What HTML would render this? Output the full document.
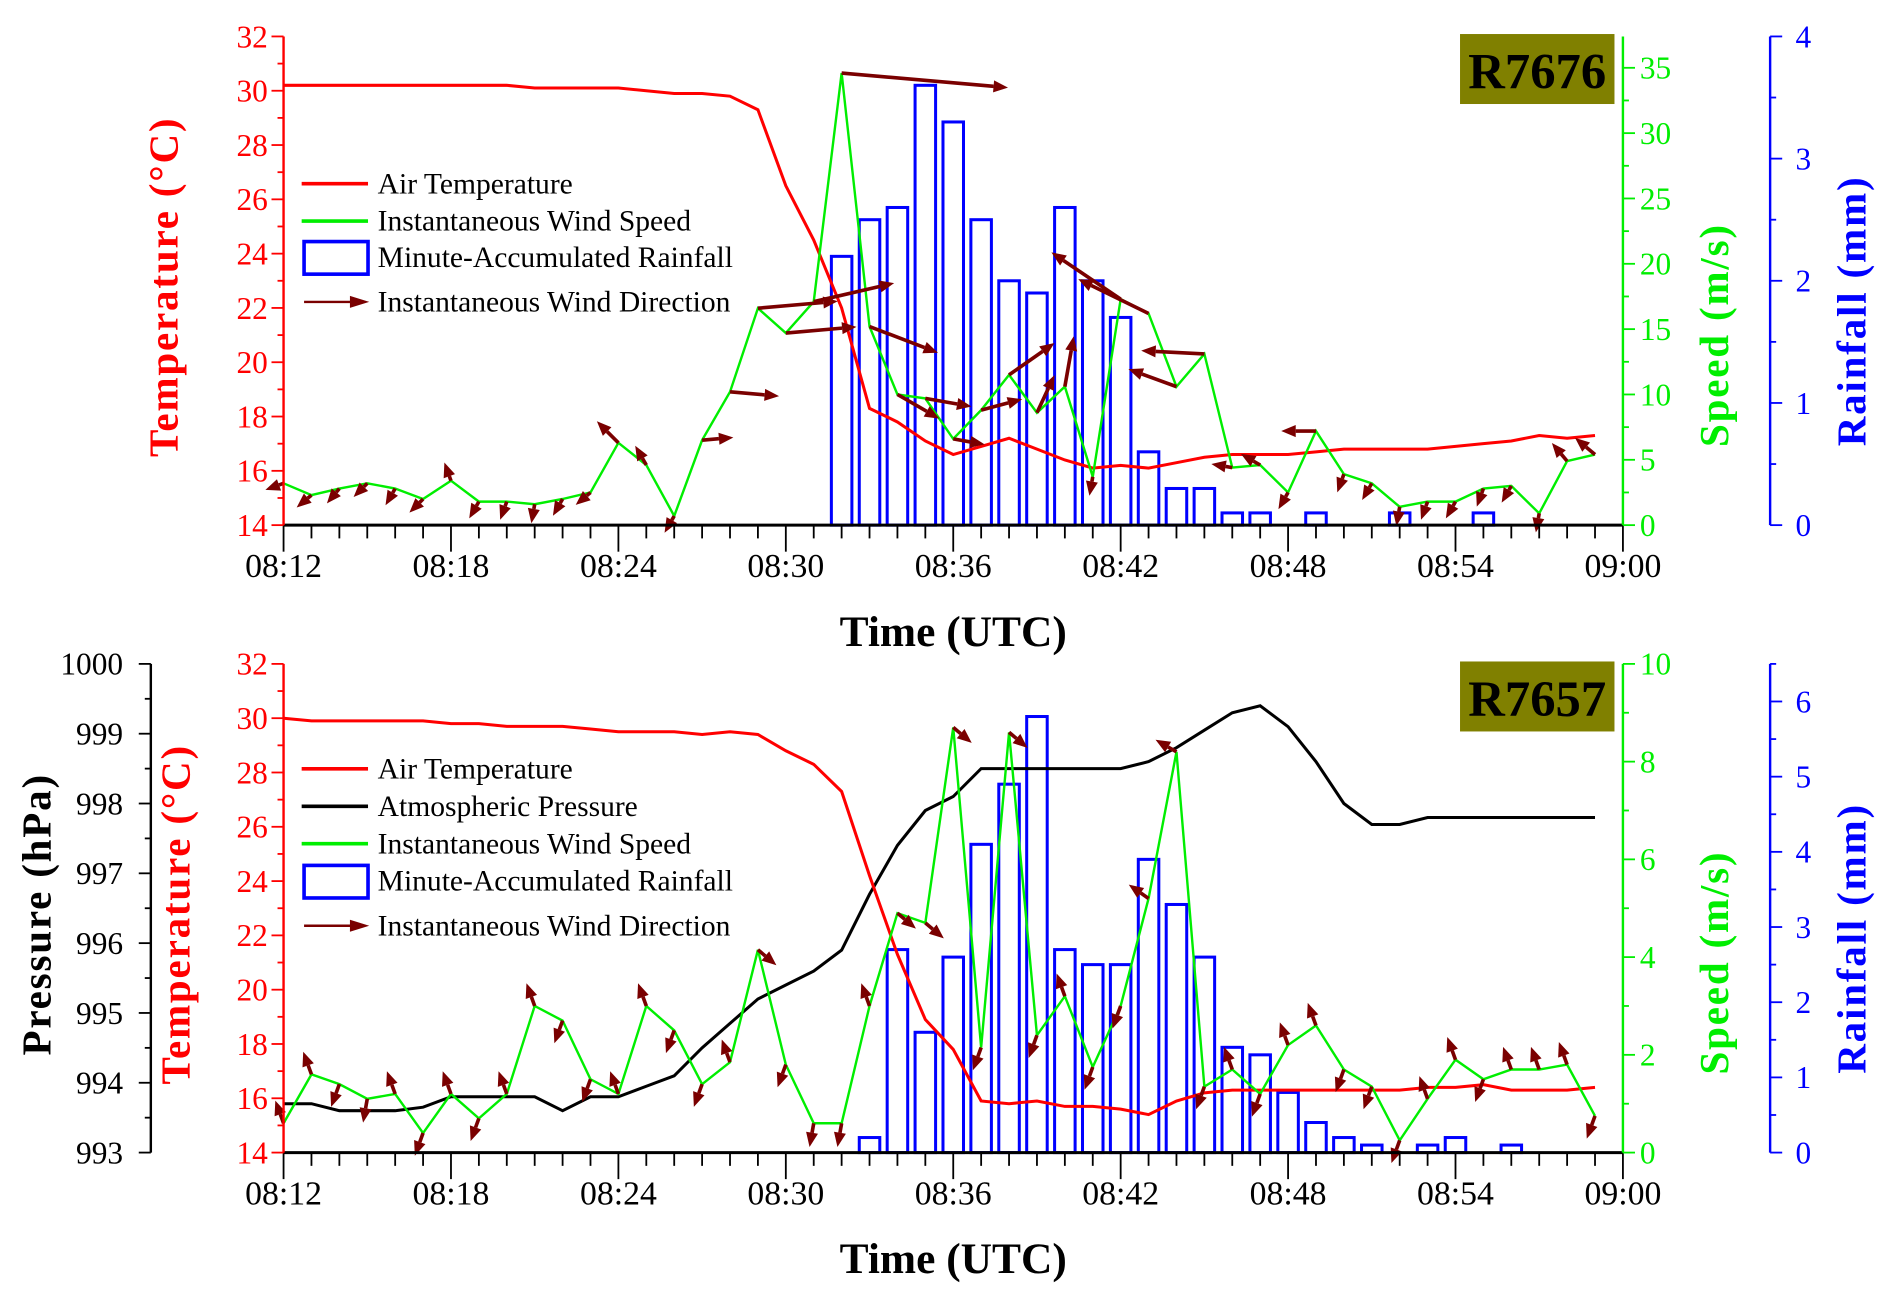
<!DOCTYPE html>
<html><head><meta charset="utf-8">
<style>
html,body{margin:0;padding:0;background:#fff}
svg{display:block}
text{font-family:"Liberation Serif",serif}
</style></head>
<body>
<svg id="chart" width="1892" height="1294" viewBox="0 0 1568 1072" xmlns="http://www.w3.org/2000/svg"></svg>
<script>
// ---------- DATA ----------
const minutes = [];
for (let m = 12; m <= 59; m++) minutes.push(m);
const xTickLabels = ["08:12","08:18","08:24","08:30","08:36","08:42","08:48","08:54","09:00"];

// Top panel R7676
const topTemp = [30.2,30.2,30.2,30.2,30.2,30.2,30.2,30.2,30.2,30.1,30.1,30.1,30.1,30.0,29.9,29.9,29.8,29.3,26.5,24.5,22.0,18.3,17.8,17.1,16.6,16.9,17.2,16.8,16.4,16.1,16.2,16.1,16.3,16.5,16.6,16.6,16.6,16.7,16.8,16.8,16.8,16.8,16.9,17.0,17.1,17.3,17.2,17.3];
const topSpeed = [3.2,2.3,2.8,3.2,2.8,2.0,3.4,1.8,1.8,1.6,2.0,2.5,6.3,4.6,0.7,6.5,10.2,16.6,14.7,17.1,34.6,15.2,10.0,9.7,6.6,8.8,11.5,8.6,10.6,3.7,17.3,16.2,10.6,13.1,4.4,4.6,2.5,7.2,3.9,3.2,1.4,1.8,1.8,2.8,3.0,0.9,4.9,5.4];
const topDir = [160,140,130,135,120,135,250,120,110,100,120,140,225,240,120,-5,5,-5,-5,-13,5,21,30,10,10,-15,-35,-65,-80,100,214,206,200,183,190,210,120,180,110,120,100,110,120,110,120,100,230,220];
const topRainMin = [32,33,34,35,36,37,38,39,40,41,42,43,44,45,46,47,49,52,55];
const topRain = [2.2,2.5,2.6,3.6,3.3,2.5,2.0,1.9,2.6,2.0,1.7,0.6,0.3,0.3,0.1,0.1,0.1,0.1,0.1];

// Bottom panel R7657
const botTemp = [30.0,29.9,29.9,29.9,29.9,29.9,29.8,29.8,29.7,29.7,29.7,29.6,29.5,29.5,29.5,29.4,29.5,29.4,28.8,28.3,27.3,24.2,21.3,18.9,17.8,15.9,15.8,15.9,15.7,15.7,15.6,15.4,15.9,16.2,16.3,16.3,16.3,16.3,16.3,16.3,16.3,16.4,16.4,16.5,16.3,16.3,16.3,16.4];
const botPres = [993.7,993.7,993.6,993.6,993.6,993.65,993.8,993.8,993.8,993.8,993.6,993.8,993.8,993.95,994.1,994.5,994.85,995.2,995.4,995.6,995.9,996.7,997.4,997.9,998.1,998.5,998.5,998.5,998.5,998.5,998.5,998.6,998.8,999.05,999.3,999.4,999.1,998.6,998.0,997.7,997.7,997.8,997.8,997.8,997.8,997.8,997.8,997.8];
const botSpeed = [0.6,1.6,1.4,1.1,1.2,0.4,1.2,0.7,1.2,3.0,2.7,1.5,1.2,3.0,2.5,1.4,1.85,4.15,1.8,0.6,0.6,3.0,4.9,4.7,8.7,2.15,8.6,2.4,3.2,1.75,3.0,5.2,8.2,1.35,1.7,1.2,2.2,2.6,1.7,1.35,0.25,1.1,1.9,1.5,1.7,1.7,1.8,0.75];
const botDir = [250,250,110,100,250,110,250,110,250,250,110,110,250,250,110,110,250,40,110,100,100,250,40,40,40,110,40,110,250,110,110,215,210,110,250,110,250,250,110,110,110,250,250,110,250,250,250,110];
const botRainMin = [33,34,35,36,37,38,39,40,41,42,43,44,45,46,47,48,49,50,51,53,54,56];
const botRain = [0.2,2.7,1.6,2.6,4.1,4.9,5.8,2.7,2.5,2.5,3.9,3.3,2.6,1.4,1.3,0.8,0.4,0.2,0.1,0.1,0.2,0.1];

// ---------- DRAW ----------
const svg = document.getElementById('chart');
const NS = 'http://www.w3.org/2000/svg';
function el(tag, attrs, parent) {
  const e = document.createElementNS(NS, tag);
  for (const k in attrs) e.setAttribute(k, attrs[k]);
  (parent || svg).appendChild(e);
  return e;
}
function txt(s, attrs, parent) { const t = el('text', attrs, parent); t.textContent = s; return t; }

const X0 = 235, X1 = 1345;
const xs = m => X0 + (m - 12) * (X1 - X0) / 48;
const DARK = '#7a0000';
const TF = 26; // tick font
const TT = 'font-size:34px;font-weight:bold;letter-spacing:1.5px';

function panel(cfg) {
  const g = el('g', {});
  
  
  const B = cfg.bottom, T = cfg.top;
  const yT = v => B - (v - 14) * (B - T) / 18;
  const yS = v => B - v * (B - T) / cfg.smax;
  const yR = v => B - v * (B - T) / cfg.rmax;

  const rg = el('g', {}, g);
  
  
  cfg.rainMin.forEach((m, i) => {
    const r = el('rect', {x: xs(m) - 8.5, y: yR(cfg.rain[i]), width: 17, height: B - yR(cfg.rain[i]), fill: 'none', stroke: '#0000ff', 'stroke-width': 2.5}, rg);
    
    
  });
  if (cfg.pres) {
    const yP = v => B - (v - 993) * (B - T) / 7;
    const p = el('polyline', {points: cfg.pres.map((v, i) => xs(minutes[i]) + ',' + yP(v)).join(' '), fill: 'none', stroke: '#000', 'stroke-width': 2.5}, g);
    
    
  }
  const tl = el('polyline', {points: cfg.temp.map((v, i) => xs(minutes[i]) + ',' + yT(v)).join(' '), fill: 'none', stroke: '#ff0000', 'stroke-width': 2.5}, g);
  
  
  const sl = el('polyline', {points: cfg.speed.map((v, i) => xs(minutes[i]) + ',' + yS(v)).join(' '), fill: 'none', stroke: '#00ee00', 'stroke-width': 2}, g);
  
  
  const ag = el('g', {}, g);
  
  
  cfg.speed.forEach((v, i) => {
    const x = xs(minutes[i]), y = yS(v);
    const len = cfg.fixedLen ? cfg.fixedLen : Math.max(16, 4 * v);
    const a = cfg.dir[i] * Math.PI / 180;
    const ex = x + len * Math.cos(a), ey = y + len * Math.sin(a);
    const hl = 12, hw = 5;
    const bx = ex - hl * Math.cos(a), by = ey - hl * Math.sin(a);
    const px = -Math.sin(a) * hw, py = Math.cos(a) * hw;
    el('line', {x1: x, y1: y, x2: bx, y2: by, stroke: DARK, 'stroke-width': 3}, ag);
    const ah = el('polygon', {points: `${ex},${ey} ${bx + px},${by + py} ${bx - px},${by - py}`, fill: DARK}, ag);
    
    
  });

  const ax = el('g', {}, g);
  
  
  el('line', {x1: X0, y1: B, x2: X1, y2: B, stroke: '#000', 'stroke-width': 2.5}, ax);
  for (let m = 12; m <= 60; m++) {
    const major = (m - 12) % 6 === 0;
    el('line', {x1: xs(m), y1: B, x2: xs(m), y2: B + (major ? 22 : 11), stroke: '#000', 'stroke-width': 1.5}, ax);
  }
  xTickLabels.forEach((s, i) => txt(s, {x: xs(12 + 6 * i), y: B + 43, 'font-size': 28, 'text-anchor': 'middle'}, ax));
  const xt = txt('Time (UTC)', {x: 790, y: B + 100, 'font-size': 36, 'font-weight': 'bold', 'text-anchor': 'middle'}, ax);
  
  

  el('line', {x1: X0, y1: T, x2: X0, y2: B, stroke: '#ff0000', 'stroke-width': 2}, ax);
  for (let v = 14; v <= 32; v++) {
    el('line', {x1: X0, y1: yT(v), x2: X0 - (v % 2 === 0 ? 10 : 5), y2: yT(v), stroke: '#ff0000', 'stroke-width': 1.5}, ax);
    if (v % 2 === 0) txt(String(v), {x: X0 - 13, y: yT(v) + 9, 'font-size': TF, fill: '#ff0000', 'text-anchor': 'end'}, ax);
  }
  txt('Temperature (°C)', {x: 0, y: 0, style: TT, fill: '#ff0000', 'text-anchor': 'middle', transform: `translate(${cfg.tTitleX},${(T + B) / 2 + 5}) rotate(-90)`}, ax);

  if (cfg.pres) {
    const yP = v => B - (v - 993) * (B - T) / 7;
    el('line', {x1: 125, y1: T, x2: 125, y2: B, stroke: '#000', 'stroke-width': 2}, ax);
    for (let v = 993; v <= 1000; v += 0.5) {
      el('line', {x1: 125, y1: yP(v), x2: 125 - (v % 1 === 0 ? 10 : 5), y2: yP(v), stroke: '#000', 'stroke-width': 1.5}, ax);
      if (v % 1 === 0) txt(String(v), {x: 102, y: yP(v) + 9, 'font-size': TF, 'text-anchor': 'end'}, ax);
    }
    txt('Pressure (hPa)', {x: 0, y: 0, style: TT, 'text-anchor': 'middle', transform: `translate(42,${(T + B) / 2 + 5}) rotate(-90)`}, ax);
  }

  el('line', {x1: X1, y1: T, x2: X1, y2: B, stroke: '#00ee00', 'stroke-width': 2}, ax);
  for (let v = 0; v <= cfg.smax + 0.001; v += cfg.sminor) {
    const major = Math.abs(v / cfg.sstep - Math.round(v / cfg.sstep)) < 1e-6;
    el('line', {x1: X1, y1: yS(v), x2: X1 + (major ? 10 : 5), y2: yS(v), stroke: '#00ee00', 'stroke-width': 1.5}, ax);
    if (major) txt(String(Math.round(v)), {x: X1 + 14, y: yS(v) + 9, 'font-size': TF, fill: '#00ee00'}, ax);
  }
  txt('Speed (m/s)', {x: 0, y: 0, style: TT, fill: '#00ee00', 'text-anchor': 'middle', transform: `translate(1432,${(T + B) / 2 + 45}) rotate(-90)`}, ax);

  el('line', {x1: 1467, y1: T, x2: 1467, y2: B, stroke: '#0000ff', 'stroke-width': 2}, ax);
  for (let v = 0; v <= cfg.rmax + 0.001; v += 0.5) {
    const major = v % 1 === 0;
    el('line', {x1: 1467, y1: yR(v), x2: 1467 + (major ? 10 : 5), y2: yR(v), stroke: '#0000ff', 'stroke-width': 1.5}, ax);
    if (major) txt(String(v), {x: 1488, y: yR(v) + 9, 'font-size': TF, fill: '#0000ff'}, ax);
  }
  txt('Rainfall (mm)', {x: 0, y: 0, style: TT, fill: '#0000ff', 'text-anchor': 'middle', transform: `translate(1546,${(T + B) / 2 + 25}) rotate(-90)`}, ax);

  const lb = el('g', {}, g);
  
  
  el('rect', {x: 1210, y: T - 2, width: 128, height: 58, fill: '#808000'}, lb);
  txt(cfg.station, {x: 1274, y: T + 43, 'font-size': 42, 'font-weight': 'bold', 'text-anchor': 'middle'}, lb);

  const lg = el('g', {}, g);
  
  
  cfg.legend.forEach(([kind, label, y]) => {
    if (kind === 'rect') el('rect', {x: 252, y: y - 13, width: 53, height: 27, fill: 'none', stroke: '#0000ff', 'stroke-width': 3}, lg);
    else if (kind === 'arrow') {
      el('line', {x1: 252, y1: y, x2: 292, y2: y, stroke: DARK, 'stroke-width': 2}, lg);
      el('polygon', {points: `306,${y} 290,${y - 5} 290,${y + 5}`, fill: DARK}, lg);
    } else el('line', {x1: 250, y1: y, x2: 305, y2: y, stroke: kind, 'stroke-width': 3}, lg);
    const t = txt(label, {x: 313, y: y + 8, 'font-size': 24.5}, lg);
    
    
  });
}

panel({name: 'panel-r7676', station: 'R7676', top: 30, bottom: 435, smax: 37.4, sstep: 5, sminor: 2.5, rmax: 4,
  temp: topTemp, speed: topSpeed, dir: topDir, rainMin: topRainMin, rain: topRain, tTitleX: 147,
  legend: [['#ff0000', 'Air Temperature', 152], ['#00ee00', 'Instantaneous Wind Speed', 183], ['rect', 'Minute-Accumulated Rainfall', 213], ['arrow', 'Instantaneous Wind Direction', 250]]});

panel({name: 'panel-r7657', station: 'R7657', top: 550, bottom: 955, smax: 10, sstep: 2, sminor: 1, rmax: 6.5, fixedLen: 20,
  temp: botTemp, pres: botPres, speed: botSpeed, dir: botDir, rainMin: botRainMin, rain: botRain, tTitleX: 157,
  legend: [['#ff0000', 'Air Temperature', 637], ['#000000', 'Atmospheric Pressure', 668], ['#00ee00', 'Instantaneous Wind Speed', 699], ['rect', 'Minute-Accumulated Rainfall', 730], ['arrow', 'Instantaneous Wind Direction', 767]]});
</script>
</body></html>
